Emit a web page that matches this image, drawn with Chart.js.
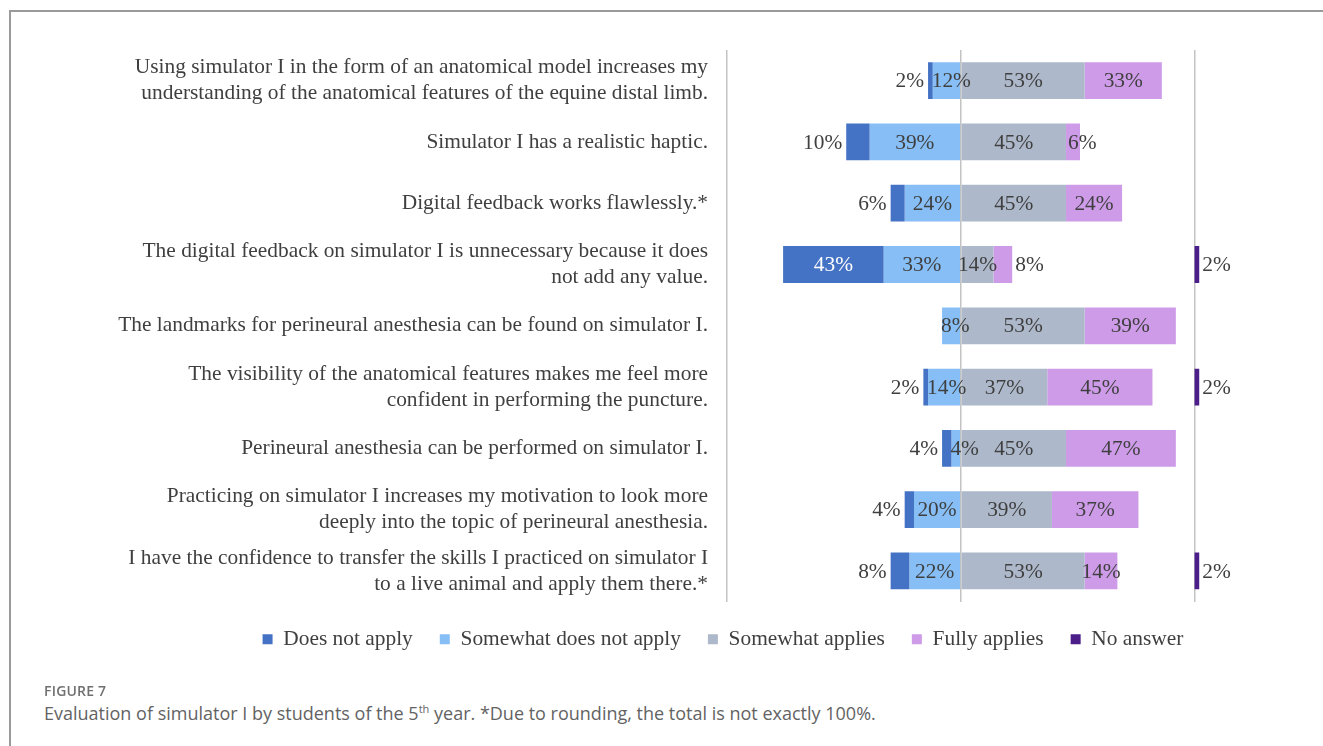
<!DOCTYPE html>
<html>
<head>
<meta charset="utf-8">
<script src="https://cdn.jsdelivr.net/npm/chart.js@4.4.1/dist/chart.umd.min.js"></script>
<style>
  html, body { margin: 0; padding: 0; background: #ffffff; }
  body { width: 1323px; height: 746px; position: relative; overflow: hidden; }
  #frame { position: absolute; left: 9px; top: 10px; width: 1400px; height: 800px;
           border-top: 2px solid #9a9a9a; border-left: 2px solid #9a9a9a; box-sizing: border-box; }
  #chart { position: absolute; left: 0; top: 0; }
  #figno { position: absolute; left: 44px; top: 681px; font-family: "Open Sans", sans-serif;
           font-size: 14px; font-weight: 600; color: #707070; letter-spacing: 0.2px; }
  #cap { position: absolute; left: 44px; top: 701px; font-family: "Open Sans", sans-serif;
         font-size: 18px; color: #636363; white-space: nowrap; }
  #cap sup { font-size: 11px; line-height: 0; }
</style>
</head>
<body>
<div id="frame"></div>
<canvas id="chart" width="1323" height="690"></canvas>
<div id="figno">FIGURE 7</div>
<div id="cap">Evaluation of simulator I by students of the 5<sup>th</sup> year. *Due to rounding, the total is not exactly 100%.</div>
<script>
// ---- data ----
const categories = [
  ["Using simulator I in the form of an anatomical model increases my", "understanding of the anatomical features of the equine distal limb."],
  ["Simulator I has a realistic haptic."],
  ["Digital feedback works flawlessly.*"],
  ["The digital feedback on simulator I is unnecessary because it does", "not add any value."],
  ["The landmarks for perineural anesthesia can be found on simulator I."],
  ["The visibility of the anatomical features makes me feel more", "confident in performing the puncture."],
  ["Perineural anesthesia can be performed on simulator I."],
  ["Practicing on simulator I increases my motivation to look more", "deeply into the topic of perineural anesthesia."],
  ["I have the confidence to transfer the skills I practiced on simulator I", "to a live animal and apply them there.*"]
];
const seriesNames = ["Does not apply", "Somewhat does not apply", "Somewhat applies", "Fully applies", "No answer"];
const doesNotApply         = [2, 10, 6, 43, 0, 2, 4, 4, 8];
const somewhatDoesNotApply = [12, 39, 24, 33, 8, 14, 4, 20, 22];
const somewhatApplies      = [53, 45, 45, 14, 53, 37, 45, 39, 53];
const fullyApplies         = [33, 6, 24, 8, 39, 45, 47, 37, 14];
const noAnswer             = [0, 0, 0, 2, 0, 2, 0, 0, 2];
const seriesColors = ["#4472C4", "#86BEF5", "#ADB9CA", "#CE9BE8", "#4B1E8A"];

// floating segments built from the values (diverging around 0; "No answer" panel starts at 100)
const segDNA  = doesNotApply.map((v, i) => v ? [-(v + somewhatDoesNotApply[i]), -somewhatDoesNotApply[i]] : null);
const segSDNA = somewhatDoesNotApply.map(v => v ? [-v, 0] : null);
const segSA   = somewhatApplies.map(v => v ? [0, v] : null);
const segFA   = fullyApplies.map((v, i) => v ? [somewhatApplies[i], somewhatApplies[i] + v] : null);
const segNA   = noAnswer.map(v => v ? [100, 100 + v] : null);
const segs = [segDNA, segSDNA, segSA, segFA, segNA];
const vals = [doesNotApply, somewhatDoesNotApply, somewhatApplies, fullyApplies, noAnswer];

const SERIF = '"Liberation Serif", "Times New Roman", serif';
const FS = 21.4;
const TXT = '#3f3f3f';
const PAD_L = 90, PAD_R = 70, AXIS_X = 727, LEGEND_CENTER = 723;

const labelPlugin = {
  id: 'barLabels',
  afterLayout(chart) {
    // centre the legend under the figure the way the original does
    const lg = chart.legend;
    if (lg) {
      const shift = LEGEND_CENTER - (lg.left + lg.right) / 2;
      lg.left += shift; lg.right += shift;
    }
  },
  afterDatasetsDraw(chart) {
    const ctx = chart.ctx;
    ctx.save();
    ctx.font = FS + 'px ' + SERIF;
    ctx.textBaseline = 'middle';
    chart.data.datasets.forEach((ds, di) => {
      const meta = chart.getDatasetMeta(di);
      meta.data.forEach((bar, i) => {
        const v = vals[di][i];
        if (!v) return;
        const txt = v + '%';
        const w = ctx.measureText(txt).width;
        const left = Math.min(bar.x, bar.base), right = Math.max(bar.x, bar.base);
        const segW = right - left, cx = (left + right) / 2, y = bar.y + 1;
        ctx.fillStyle = TXT;
        ctx.textAlign = 'center';
        let x = cx;
        if (di === 0) {
          if (v >= 20) { ctx.fillStyle = '#ffffff'; }
          else { ctx.textAlign = 'right'; x = left - 4; }
        } else if (di === 1) {
          if (w > segW) { ctx.textAlign = 'left'; x = left - 1; }
        } else if (di === 3) {
          if (v < 10) {
            ctx.textAlign = 'left';
            x = noAnswer[i] ? right + 3 : left + 2;
          }
        } else if (di === 4) {
          ctx.textAlign = 'left'; x = right + 3;
        }
        ctx.fillText(txt, x, y);
      });
    });
    ctx.restore();
  }
};

new Chart(document.getElementById('chart'), {
  type: 'bar',
  data: {
    labels: categories,
    datasets: seriesNames.map((name, k) => ({
      label: name,
      data: segs[k],
      backgroundColor: seriesColors[k],
      borderWidth: 0,
      grouped: false,
      categoryPercentage: 1,
      barPercentage: 0.6
    }))
  },
  options: {
    indexAxis: 'y',
    responsive: false,
    animation: false,
    devicePixelRatio: 1,
    layout: { padding: { left: PAD_L, right: PAD_R, top: 50, bottom: 30 } },
    plugins: {
      tooltip: { enabled: false },
      legend: {
        position: 'bottom',
        labels: {
          font: { family: SERIF, size: FS },
          color: TXT,
          boxWidth: 10,
          boxHeight: 10,
          padding: 27
        }
      }
    },
    scales: {
      x: {
        min: -100,
        max: 125,
        afterBuildTicks: s => { s.ticks = [-100, 0, 100].map(v => ({ value: v })); },
        afterFit: s => { s.height = 0; },
        ticks: { display: false },
        grid: { color: '#c3c3c3', lineWidth: 1.5, drawTicks: false },
        border: { display: false }
      },
      y: {
        afterFit: s => { s.width = AXIS_X - PAD_L; },
        ticks: {
          autoSkip: false,
          padding: 19,
          color: TXT,
          font: { family: SERIF, size: FS, lineHeight: 1.22 }
        },
        grid: { display: false, drawTicks: false },
        border: { display: false }
      }
    }
  },
  plugins: [labelPlugin]
});
</script>
</body>
</html>
